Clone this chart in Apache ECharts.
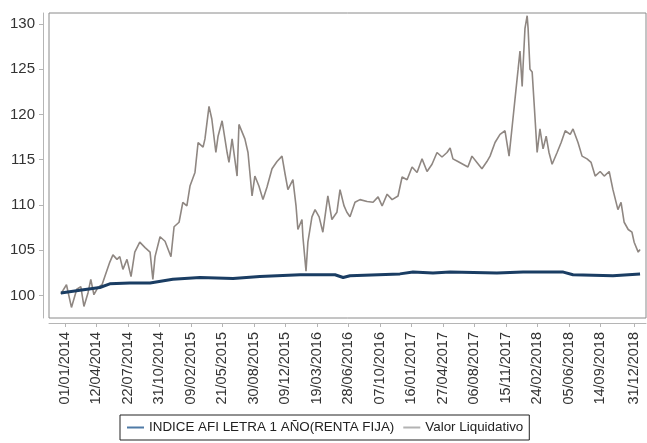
<!DOCTYPE html>
<html>
<head>
<meta charset="utf-8">
<script src="https://cdn.jsdelivr.net/npm/echarts@6/dist/echarts.min.js"></script>
<style>html,body{margin:0;padding:0;background:#fff;}#c{width:647px;height:443px;}</style>
</head>
<body>
<div id="c"></div>
<script>
const valorDates = [
'2013-12-19','2014-01-06','2014-01-22','2014-02-08','2014-02-21','2014-03-03','2014-03-16','2014-03-25','2014-04-04','2014-04-17',
'2014-04-30','2014-05-09','2014-05-25','2014-06-04','2014-06-17','2014-06-26','2014-07-06','2014-07-19','2014-08-01','2014-08-13',
'2014-08-29','2014-09-15','2014-10-01','2014-10-10','2014-10-17','2014-11-02','2014-11-18','2014-12-07','2014-12-17','2015-01-02',
'2015-01-14','2015-01-27','2015-02-06','2015-02-22','2015-03-04','2015-03-20','2015-03-26','2015-04-08','2015-04-17','2015-04-30',
'2015-05-07','2015-05-20','2015-06-05','2015-06-11','2015-06-21','2015-07-07','2015-07-13','2015-08-01','2015-08-11','2015-08-24',
'2015-09-02','2015-09-15','2015-09-28','2015-10-11','2015-10-27','2015-11-12','2015-11-28','2015-12-08','2015-12-17','2016-01-02',
'2016-01-12','2016-01-18','2016-01-31','2016-02-03','2016-02-13','2016-02-19','2016-03-03','2016-03-13','2016-03-26','2016-04-07',
'2016-04-23','2016-05-06','2016-05-22','2016-06-01','2016-06-14','2016-06-23','2016-07-03','2016-07-19','2016-08-04','2016-08-27',
'2016-09-15','2016-10-01','2016-10-14','2016-10-30','2016-11-15','2016-12-04','2016-12-17','2017-01-02','2017-01-18','2017-02-03',
'2017-02-19','2017-03-07','2017-03-23','2017-04-08','2017-04-24','2017-05-10','2017-05-20','2017-05-29','2017-06-14','2017-06-30',
'2017-07-16','2017-07-29','2017-08-14','2017-08-30','2017-09-15','2017-09-25','2017-10-11','2017-10-27','2017-11-12','2017-11-25',
'2017-12-05','2017-12-14','2017-12-24','2017-12-30','2018-01-06','2018-01-09','2018-01-15','2018-01-22','2018-01-25','2018-01-31',
'2018-02-07','2018-02-13','2018-02-23','2018-03-04','2018-03-14','2018-03-24','2018-04-02','2018-04-12','2018-04-28','2018-05-11',
'2018-05-24','2018-06-09','2018-06-18','2018-07-04','2018-07-17','2018-08-02','2018-08-15','2018-08-28','2018-09-13','2018-09-26',
'2018-10-12','2018-10-24','2018-11-09','2018-11-19','2018-11-29','2018-12-12','2018-12-24','2018-12-31','2019-01-13','2019-01-19'
];
const valor = [
100.2,101.2,98.7,100.7,101.0,98.8,100.3,101.8,100.1,100.9,
101.2,102.1,103.7,104.5,104.0,104.3,102.9,104.0,102.1,104.8,
105.9,105.3,104.8,101.8,104.3,106.5,106.0,104.3,107.6,108.1,
110.3,109.9,112.1,113.6,116.9,116.4,117.3,120.9,119.5,115.8,
117.6,119.3,115.8,114.7,117.3,113.2,118.9,117.3,115.8,111.0,
113.2,112.1,110.6,112.0,114.0,114.8,115.4,113.4,111.7,112.8,
109.9,107.3,108.4,106.5,102.7,105.9,108.7,109.5,108.7,107.0,
111.0,108.4,109.2,111.7,109.9,109.2,108.7,110.3,110.6,110.4,
110.3,110.9,109.9,111.2,110.6,111.0,113.1,112.8,114.2,113.6,
115.1,113.7,114.5,115.8,115.3,115.8,116.3,115.1,114.8,114.5,
114.2,115.4,114.7,114.0,114.8,115.4,116.9,117.8,118.2,115.4,
118.7,121.7,125.0,127.0,123.1,125.4,129.5,130.9,129.5,125.0,
124.7,121.4,115.8,118.4,116.2,117.6,115.8,114.5,115.8,116.9,
118.2,117.8,118.4,116.9,115.4,115.1,114.7,113.2,113.7,113.2,
113.7,111.7,109.5,110.3,108.1,107.3,107.0,105.9,104.8,105.1
];
const indiceDates = [
'2013-12-19','2014-02-18','2014-04-23','2014-05-25','2014-07-28','2014-10-01','2014-12-13','2015-03-10','2015-06-24','2015-09-18',
'2016-01-25','2016-05-16','2016-06-11','2016-07-03','2016-12-10','2017-01-21','2017-03-26','2017-05-20','2017-10-17','2018-01-09',
'2018-05-18','2018-06-18','2018-10-24','2019-01-19'
];
const indice = [
100.3,100.6,100.9,101.3,101.4,101.4,101.8,102.0,101.9,102.1,
102.3,102.3,102.0,102.2,102.4,102.6,102.5,102.6,102.5,102.6,
102.6,102.3,102.2,102.4
];
const tickLabels = ['01/01/2014','12/04/2014','22/07/2014','31/10/2014','09/02/2015','21/05/2015','30/08/2015','09/12/2015',
'19/03/2016','28/06/2016','07/10/2016','16/01/2017','27/04/2017','06/08/2017','15/11/2017','24/02/2018','05/06/2018',
'14/09/2018','31/12/2018'];
const yTicks = [100,105,110,115,120,125,130];
const seriesNames = ['INDICE AFI LETRA 1 AÑO(RENTA FIJA)','Valor Liquidativo'];

function parseDMY(s){const p=s.split('/');return Date.UTC(+p[2],+p[1]-1,+p[0]);}
function parseYMD(s){const p=s.split('-');return Date.UTC(+p[0],+p[1]-1,+p[2]);}
function pad(n){return (n<10?'0':'')+n;}
const tickValues = tickLabels.map(parseDMY);

const chart = echarts.init(document.getElementById('c'), null, {renderer:'canvas'});
chart.setOption({
  animation:false,
  backgroundColor:'#fff',
  grid:{left:49,right:1,top:13,bottom:125,show:true,borderColor:'#8a8a8a',borderWidth:1},
  legend:{
    left:120, top:415, orient:'horizontal',
    borderColor:'#222', borderWidth:1, padding:[6,6,6,7],
    itemWidth:17, itemHeight:2, itemGap:9,
    textStyle:{fontFamily:'Liberation Sans', fontSize:13.4, color:'#222'},
    data:[
      {name:seriesNames[0], icon:'rect', itemStyle:{color:'#4f7aa6'}},
      {name:seriesNames[1], icon:'rect', itemStyle:{color:'#b3b3b3'}}
    ]
  },
  xAxis:{
    type:'value',
    min:parseYMD('2013-11-11'), max:parseYMD('2019-02-07'),
    offset:5,
    axisLine:{show:true,lineStyle:{color:'#b5b5b5'}},
    axisTick:{show:true,length:4,lineStyle:{color:'#b5b5b5'},customValues:tickValues},
    splitLine:{show:false},
    axisLabel:{
      customValues:tickValues, rotate:90, margin:9,
      fontFamily:'Liberation Sans', fontSize:14.5, color:'#333',
      formatter:function(v){const d=new Date(v);return pad(d.getUTCDate())+'/'+pad(d.getUTCMonth()+1)+'/'+d.getUTCFullYear();}
    }
  },
  yAxis:{
    type:'value', min:97.53, max:131.2, offset:6,
    axisLine:{show:true,lineStyle:{color:'#b5b5b5'}},
    axisTick:{show:true,length:4,lineStyle:{color:'#b5b5b5'},customValues:yTicks},
    splitLine:{show:false},
    axisLabel:{customValues:yTicks, margin:8, fontFamily:'Liberation Sans', fontSize:15, color:'#333'}
  },
  series:[
    {
      name:seriesNames[1], type:'line', showSymbol:false, z:2,
      lineStyle:{color:'#8f8782',width:1.6}, itemStyle:{color:'#8f8782'},
      data:valorDates.map((d,i)=>[parseYMD(d),valor[i]])
    },
    {
      name:seriesNames[0], type:'line', showSymbol:false, z:3,
      lineStyle:{color:'#1a3d63',width:3}, itemStyle:{color:'#1a3d63'},
      data:indiceDates.map((d,i)=>[parseYMD(d),indice[i]])
    }
  ]
});
</script>
</body>
</html>
